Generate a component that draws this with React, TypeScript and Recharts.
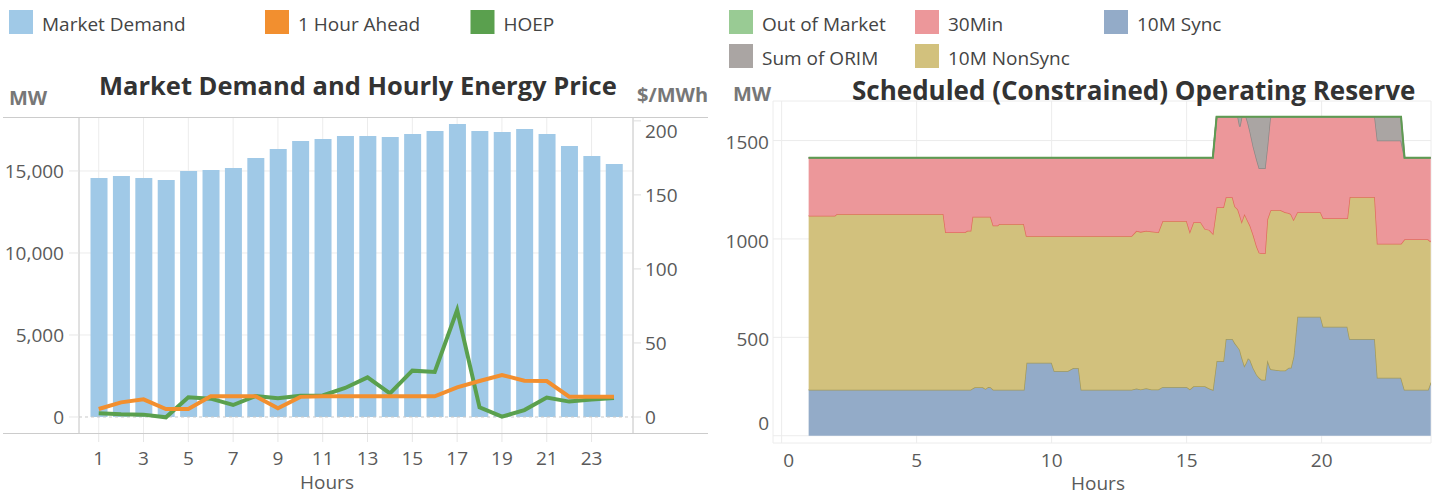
import React from "react";
import {
  Area,
  AreaChart,
  Bar,
  CartesianGrid,
  ComposedChart,
  Line,
  ReferenceLine,
  XAxis,
  YAxis,
} from "recharts";

const FONT = "'Open Sans', sans-serif";
const TICK = "#5a5a5a";

// left chart: hourly demand and prices
const hours = [1, 2, 3, 4, 5, 6, 7, 8, 9, 10, 11, 12, 13, 14, 15, 16, 17, 18, 19, 20, 21, 22, 23, 24];
const marketDemand = [
  14570, 14700, 14570, 14450, 15000, 15060, 15180, 15790, 16340, 16830, 16950, 17130,
  17130, 17070, 17260, 17440, 17870, 17440, 17380, 17560, 17260, 16520, 15910, 15430,
];
const hourAhead = [
  5.4, 9.9, 11.9, 5.4, 5.4, 14.0, 14.0, 14.0, 5.9, 13.6, 14.0, 14.0,
  14.0, 14.0, 14.0, 14.0, 20.0, 24.3, 28.4, 24.5, 24.3, 13.7, 13.7, 13.7,
];
const hoep = [
  2.5, 1.8, 1.6, -0.2, 13.3, 12.4, 8.1, 14.2, 12.6, 14.4, 14.6, 19.6,
  26.8, 16.0, 31.3, 30.4, 72.3, 6.5, 0.2, 4.7, 13.1, 10.4, 11.9, 12.8,
];
const hourTicks = [1, 3, 5, 7, 9, 11, 13, 15, 17, 19, 21, 23];
const mwTicks = [0, 5000, 10000, 15000];
const priceTicks = [0, 50, 100, 150, 200];

// right chart: operating reserve (MW), stacked
const resTime = [
  1.0, 1.97, 2.05, 5.99, 6.08, 6.79, 6.88, 7.0, 7.07, 7.15, 7.45, 7.55, 7.65, 7.74, 7.84, 8.0,
  8.06, 8.97, 9.07, 10.0, 10.1, 10.6, 10.8, 11.0, 11.1, 12.96, 13.14, 13.3, 13.5, 13.7, 13.95,
  14.11, 15.0, 15.12, 15.25, 15.52, 15.68, 15.84, 15.97, 16.11, 16.36, 16.45, 16.7, 16.79, 16.9,
  16.97, 17.04, 17.14, 17.2, 17.27, 17.35, 17.47, 17.6, 17.69, 17.78, 17.9, 17.99, 18.09, 18.12,
  18.47, 18.65, 18.78, 18.86, 18.96, 19.1, 19.96, 20.06, 20.95, 21.04, 21.97, 22.07, 22.94,
  23.07, 23.94, 24.04,
];
const sync10 = [
  233, 233, 233, 233, 233, 233, 233, 233, 240, 246, 246, 238, 248, 246, 233, 233,
  233, 233, 371, 371, 329, 329, 344, 344, 233, 233, 240, 235, 241, 235, 235,
  248, 248, 236, 251, 251, 251, 240, 233, 380, 380, 492, 492, 470, 450,
  436, 400, 355, 370, 394, 385, 343, 309, 295, 284, 284, 385, 345, 338,
  331, 331, 346, 346, 402, 605, 605, 554, 554, 492, 492, 295, 295,
  233, 233, 270,
];
const nonSync10 = [
  885, 885, 894, 894, 801, 801, 808, 808, 873, 867, 867, 875, 865, 867, 835, 835,
  843, 843, 644, 644, 686, 686, 671, 671, 782, 782, 801, 801, 801, 803, 799,
  843, 843, 801, 834, 834, 800, 806, 794, 781, 781, 720, 720, 695, 700,
  684, 688, 772, 740, 696, 683, 677, 651, 635, 643, 643, 715, 795, 809,
  816, 805, 786, 781, 696, 531, 531, 551, 551, 721, 721, 680, 680,
  765, 765, 716,
];
const min30 = [
  295, 295, 286, 286, 379, 379, 372, 372, 300, 300, 300, 300, 300, 300, 345, 345,
  337, 337, 398, 398, 398, 398, 398, 398, 398, 398, 372, 377, 371, 375, 379,
  322, 322, 376, 328, 328, 362, 367, 386, 460, 460, 409, 409, 456, 471,
  451, 533, 494, 511, 500, 477, 449, 441, 429, 432, 432, 369, 470, 474,
  474, 485, 489, 494, 523, 485, 485, 516, 516, 408, 408, 525, 525,
  415, 415, 427,
];
const orim = [
  0, 0, 0, 0, 0, 0, 0, 0, 0, 0, 0, 0, 0, 0, 0, 0,
  0, 0, 0, 0, 0, 0, 0, 0, 0, 0, 0, 0, 0, 0, 0,
  0, 0, 0, 0, 0, 0, 0, 0, 0, 0, 0, 0, 0, 0,
  50, 0, 0, 0, 31, 76, 152, 220, 262, 262, 262, 152, 11, 0,
  0, 0, 0, 0, 0, 0, 0, 0, 0, 0, 0, 121, 121,
  0, 0, 0,
];
const outOfMarket = resTime.map(() => 0);
const resXTicks = [0, 5, 10, 15, 20];
const resYTicks = [0, 500, 1000, 1500];

const demandData = hours.map((h, i) => ({
  hour: h,
  demand: marketDemand[i],
  ahead: hourAhead[i],
  hoep: hoep[i],
}));

const reserveData = resTime.map((t, i) => ({
  t,
  sync: sync10[i],
  nonsync: nonSync10[i],
  min30: min30[i],
  orim: orim[i],
  oom: outOfMarket[i],
}));

const tickStyle = { fill: TICK, fontSize: 19, fontFamily: FONT };

// edge labels are nudged inward like the original
const PriceTick = (props: any) => {
  const { x, y, payload } = props;
  const shift = payload.value === 200 ? 10 : 0;
  return (
    <text x={x} y={y + shift} dy="0.35em" textAnchor="start" {...tickStyle}>
      {payload.value}
    </text>
  );
};

const ReserveYTick = (props: any) => {
  const { x, y, payload } = props;
  const shift = payload.value === 0 ? -12 : 2;
  return (
    <text x={x} y={y + shift} dy="0.35em" textAnchor="end" {...tickStyle}>
      {payload.value}
    </text>
  );
};

const ReserveXTick = (props: any) => {
  const { x, y, payload } = props;
  return (
    <text x={x + (payload.value === 0 ? 7 : 0)} y={y} dy="0.71em" textAnchor="middle" {...tickStyle}>
      {payload.value}
    </text>
  );
};

const Swatch = ({ x, y, color, label }: { x: number; y: number; color: string; label: string }) => (
  <g>
    <rect x={x} y={y} width={24} height={24} fill={color} />
    <text x={x + 33} y={y + 20.5} fontSize={19} fill="#444" fontFamily={FONT}>
      {label}
    </text>
  </g>
);

export default function App() {
  return (
    <div style={{ position: "absolute", left: 0, top: 0, width: 1438, height: 497, background: "#fff", fontFamily: FONT }}>
      <div style={{ position: "absolute", left: 0, top: 0 }}>
        <ComposedChart width={720} height={497} data={demandData} margin={{ top: 117, right: 10, bottom: 34, left: 9 }}>
          <CartesianGrid
            yAxisId="left"
            stroke="#ececec"
            horizontalValues={[5000, 10000, 15000]}
          />
          <XAxis
            dataKey="hour"
            type="number"
            domain={[0.12, 24.85]}
            allowDataOverflow
            ticks={hourTicks}
            axisLine={false}
            tickLine={{ stroke: "#e6e6e6" }}
            tickSize={9}
            tickMargin={10}
            tick={tickStyle}
            height={30}
          />
          <YAxis
            yAxisId="left"
            domain={[-976, 18290]}
            allowDataOverflow
            ticks={mwTicks}
            tickFormatter={(v: number) => v.toLocaleString("en-US")}
            axisLine={{ stroke: "#cccccc" }}
            tickLine={{ stroke: "#e6e6e6" }}
            tickSize={10}
            tickMargin={5}
            tick={tickStyle}
            width={70}
          />
          <YAxis
            yAxisId="right"
            orientation="right"
            domain={[-10.8, 202.6]}
            allowDataOverflow
            ticks={priceTicks}
            axisLine={{ stroke: "#cccccc" }}
            tickLine={{ stroke: "#dddddd" }}
            tickSize={8}
            tickMargin={4}
            tick={<PriceTick />}
            width={77}
          />
          <Bar yAxisId="left" dataKey="demand" fill="#a0c9e7" barSize={17} isAnimationActive={false} />
          <ReferenceLine yAxisId="left" y={0} stroke="#c8c8c8" strokeDasharray="3 3" />
          <Line yAxisId="right" type="linear" dataKey="hoep" stroke="#5aa04e" strokeWidth={4} dot={false} isAnimationActive={false} />
          <Line yAxisId="right" type="linear" dataKey="ahead" stroke="#f28f2f" strokeWidth={4} dot={false} isAnimationActive={false} />
        </ComposedChart>
      </div>

      <div style={{ position: "absolute", left: 720, top: 0 }}>
        <AreaChart width={718} height={497} data={reserveData} margin={{ top: 101, right: 7, bottom: 24, left: 0 }}>
          <CartesianGrid stroke="#ececec" />
          <XAxis
            dataKey="t"
            type="number"
            domain={[-0.32, 24.05]}
            allowDataOverflow
            ticks={resXTicks}
            axisLine={false}
            tickLine={false}
            tickSize={0}
            tickMargin={11}
            tick={<ReserveXTick />}
            height={30}
          />
          <YAxis
            domain={[-37, 1701]}
            allowDataOverflow
            ticks={resYTicks}
            axisLine={false}
            tickLine={false}
            tickSize={0}
            tickMargin={4}
            tick={<ReserveYTick />}
            width={53}
          />
          <Area type="linear" dataKey="sync" stackId="r" fill="#93abc8" fillOpacity={1} stroke="#a39a5a" strokeWidth={1.5} isAnimationActive={false} />
          <Area type="linear" dataKey="nonsync" stackId="r" fill="#d2c17d" fillOpacity={1} stroke="#e06c5c" strokeWidth={1.5} isAnimationActive={false} />
          <Area type="linear" dataKey="min30" stackId="r" fill="#ec979a" fillOpacity={1} stroke="#8c8785" strokeWidth={1.5} isAnimationActive={false} />
          <Area type="linear" dataKey="orim" stackId="r" fill="#aaa5a3" fillOpacity={1} stroke="#8c8785" strokeWidth={1.5} isAnimationActive={false} />
          <Area type="linear" dataKey="oom" stackId="r" fill="#99cb94" fillOpacity={1} stroke="#5e9b52" strokeWidth={2} isAnimationActive={false} />
        </AreaChart>
      </div>

      <svg width={1438} height={497} style={{ position: "absolute", left: 0, top: 0, pointerEvents: "none" }}>
        <line x1={3} y1={117.5} x2={708} y2={117.5} stroke="#cccccc" />
        <line x1={3} y1={433.5} x2={708} y2={433.5} stroke="#cccccc" />

        <Swatch x={9} y={10} color="#a0c9e7" label="Market Demand" />
        <Swatch x={265} y={10} color="#f28f2f" label="1 Hour Ahead" />
        <Swatch x={470.5} y={10} color="#5aa04e" label="HOEP" />

        <Swatch x={729} y={10} color="#99cb94" label="Out of Market" />
        <Swatch x={915} y={10} color="#ec979a" label="30Min" />
        <Swatch x={1104} y={10} color="#93abc8" label="10M Sync" />
        <Swatch x={729} y={44} color="#aaa5a3" label="Sum of ORIM" />
        <Swatch x={915} y={44} color="#d2c17d" label="10M NonSync" />

        <text x={99} y={95} fontSize={25.5} fontWeight={700} fill="#333" fontFamily={FONT}>
          Market Demand and Hourly Energy Price
        </text>
        <text x={9} y={105} fontSize={20} fontWeight={700} fill="#777" fontFamily={FONT}>
          MW
        </text>
        <text x={637} y={101.5} fontSize={20} fontWeight={700} fill="#777" fontFamily={FONT}>
          $/MWh
        </text>
        <text x={327} y={489} fontSize={19} textAnchor="middle" fill={TICK} fontFamily={FONT}>
          Hours
        </text>

        <text x={852} y={100} fontSize={26} fontWeight={700} fill="#333" fontFamily={FONT}>
          Scheduled (Constrained) Operating Reserve
        </text>
        <text x={733} y={101} fontSize={20} fontWeight={700} fill="#777" fontFamily={FONT}>
          MW
        </text>
        <text x={1098} y={490} fontSize={19} textAnchor="middle" fill={TICK} fontFamily={FONT}>
          Hours
        </text>
      </svg>
    </div>
  );
}
